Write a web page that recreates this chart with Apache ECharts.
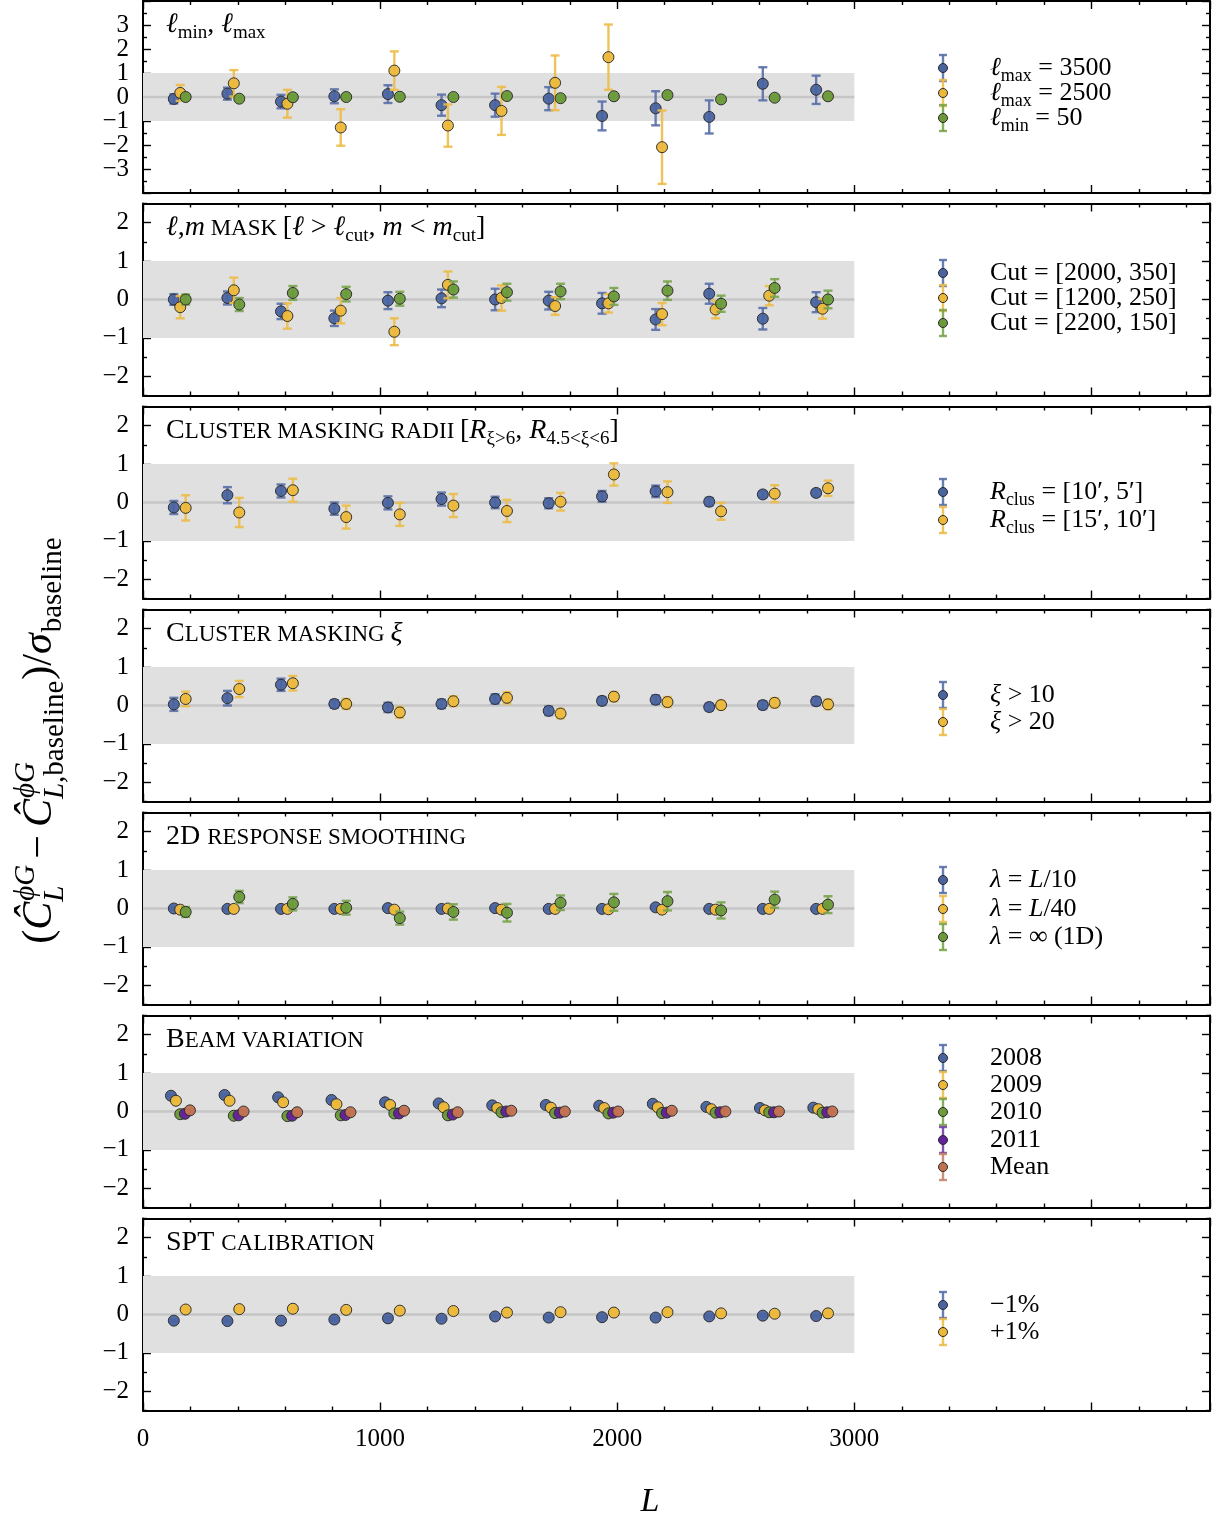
<!DOCTYPE html>
<html><head><meta charset="utf-8">
<script src="https://cdn.jsdelivr.net/npm/echarts@6/dist/echarts.min.js"></script>
<style>html,body{margin:0;padding:0;background:#fff}#c{width:1221px;height:1521px}</style>
</head><body><div id="c"></div>
<script>
const SERIF = "'Liberation Serif','DejaVu Serif',serif";

// ---------- DATA ----------
const binCenters = [160, 386, 612, 837, 1063, 1289, 1515, 1741, 1966, 2192, 2418, 2644, 2869];
const xTickLabels = [0, 1000, 2000, 3000];
const bandL = [0, 3000];
const bandY = [-1, 1];

// Panel 1: lmin, lmax
const p1Title = '{ti|ℓ}{ts|min}{tn|, }{ti|ℓ}{ts|max}';
const p1Labels = ['{i|ℓ}{s|max}{n| = 3500}', '{i|ℓ}{s|max}{n| = 2500}', '{i|ℓ}{s|min}{n| = 50}'];
const p1Lmax3500 = [-0.08, 0.14, -0.19, 0.03, 0.12, -0.34, -0.34, -0.07, -0.79, -0.47, -0.83, 0.55, 0.30];
const p1Lmax3500Err = [0.19, 0.25, 0.28, 0.29, 0.37, 0.44, 0.48, 0.48, 0.60, 0.71, 0.69, 0.69, 0.59];
const p1Lmax2500 = [0.17, 0.57, -0.28, -1.27, 1.10, -1.19, -0.58, 0.59, 1.66, -2.09];
const p1Lmax2500Err = [0.33, 0.55, 0.58, 0.76, 0.80, 0.88, 1.00, 1.14, 1.36, 1.53];
const p1Lmin50 = [0.00, -0.07, -0.01, 0.00, 0.01, 0.00, 0.04, -0.05, 0.03, 0.08, -0.10, -0.03, 0.03];
const p1Lmin50Err = [0.08, 0.08, 0.08, 0.08, 0.08, 0.08, 0.08, 0.08, 0.08, 0.08, 0.08, 0.08, 0.08];

// Panel 2: l,m mask
const p2Title = '{ti|ℓ}{tn|,}{ti|m}{tc| MASK }{tn|[}{ti|ℓ}{tn| > }{ti|ℓ}{ts|cut}{tn|, }{ti|m}{tn| < }{ti|m}{ts|cut}{tn|]}';
const p2Labels = ['{n|Cut = [2000, 350]}', '{n|Cut = [1200, 250]}', '{n|Cut = [2200, 150]}'];
const p2Cut2000 = [0.00, 0.04, -0.31, -0.49, -0.03, 0.03, 0.00, -0.03, -0.10, -0.52, 0.15, -0.50, -0.07];
const p2Cut2000Err = [0.14, 0.17, 0.20, 0.20, 0.22, 0.23, 0.28, 0.23, 0.27, 0.27, 0.26, 0.28, 0.26];
const p2Cut1200 = [-0.20, 0.24, -0.43, -0.29, -0.84, 0.38, 0.04, -0.17, -0.10, -0.38, -0.26, 0.10, -0.24];
const p2Cut1200Err = [0.29, 0.33, 0.33, 0.33, 0.35, 0.35, 0.33, 0.23, 0.24, 0.29, 0.23, 0.25, 0.26];
const p2Cut2200 = [0.00, -0.13, 0.17, 0.14, 0.02, 0.26, 0.19, 0.21, 0.08, 0.23, -0.11, 0.30, 0.00];
const p2Cut2200Err = [0.13, 0.17, 0.18, 0.19, 0.18, 0.21, 0.22, 0.20, 0.22, 0.24, 0.21, 0.23, 0.23];

// Panel 3: cluster masking radii
const p3Title = '{tn|C}{tc|LUSTER MASKING RADII }{tn|[}{ti|R}{ts|ξ>6}{tn|, }{ti|R}{ts|4.5<ξ<6}{tn|]}';
const p3Labels = ['{i|R}{s|clus}{n| = [10′, 5′]}', '{i|R}{s|clus}{n| = [15′, 10′]}'];
const p3R10 = [-0.13, 0.19, 0.30, -0.16, -0.01, 0.09, 0.00, -0.02, 0.16, 0.29, 0.02, 0.21, 0.25];
const p3R10Err = [0.17, 0.21, 0.17, 0.16, 0.17, 0.17, 0.15, 0.13, 0.14, 0.15, 0.10, 0.08, 0.08];
const p3R15 = [-0.14, -0.26, 0.32, -0.38, -0.31, -0.08, -0.22, 0.02, 0.73, 0.27, -0.23, 0.23, 0.37];
const p3R15Err = [0.33, 0.38, 0.30, 0.30, 0.30, 0.30, 0.29, 0.23, 0.29, 0.28, 0.22, 0.22, 0.20];

// Panel 4: cluster masking xi
const p4Title = '{tn|C}{tc|LUSTER MASKING }{ti|ξ}';
const p4Labels = ['{i|ξ}{n| > 10}', '{i|ξ}{n| > 20}'];
const p4Xi10 = [0.03, 0.19, 0.54, 0.04, -0.05, 0.04, 0.17, -0.14, 0.12, 0.15, -0.04, 0.01, 0.11];
const p4Xi10Err = [0.17, 0.19, 0.16, 0.10, 0.12, 0.11, 0.12, 0.11, 0.10, 0.11, 0.09, 0.10, 0.10];
const p4Xi20 = [0.17, 0.43, 0.58, 0.04, -0.18, 0.11, 0.20, -0.21, 0.23, 0.09, 0.01, 0.07, 0.03];
const p4Xi20Err = [0.19, 0.21, 0.19, 0.13, 0.14, 0.13, 0.15, 0.12, 0.12, 0.13, 0.11, 0.12, 0.13];

// Panel 5: 2D response smoothing
const p5Title = '{tn|2D }{tc|RESPONSE SMOOTHING}';
const p5Labels = ['{i|λ}{n| = }{i|L}{n|/10}', '{i|λ}{n| = }{i|L}{n|/40}', '{i|λ}{n| = ∞ (1D)}'];
const p5L10 = [0.00, -0.01, -0.01, -0.01, 0.01, -0.01, 0.01, -0.01, -0.01, 0.03, -0.01, -0.01, -0.01];
const p5L10Err = [0.03, 0.03, 0.03, 0.03, 0.03, 0.03, 0.03, 0.03, 0.03, 0.03, 0.03, 0.03, 0.03];
const p5L40 = [-0.03, -0.01, -0.01, -0.01, -0.03, 0.00, -0.03, -0.01, -0.02, -0.03, -0.03, -0.01, -0.01];
const p5L40Err = [0.05, 0.05, 0.05, 0.05, 0.05, 0.05, 0.05, 0.05, 0.05, 0.05, 0.05, 0.05, 0.05];
const p5Inf = [-0.09, 0.30, 0.12, 0.02, -0.25, -0.09, -0.11, 0.15, 0.16, 0.19, -0.05, 0.23, 0.10];
const p5InfErr = [0.13, 0.16, 0.17, 0.18, 0.17, 0.20, 0.23, 0.19, 0.22, 0.24, 0.21, 0.21, 0.22];

// Panel 6: beam variation
const p6Title = '{tn|B}{tc|EAM VARIATION}';
const p6Labels = ['{n|2008}', '{n|2009}', '{n|2010}', '{n|2011}', '{n|Mean}'];
const p6Y2008 = [0.41, 0.43, 0.37, 0.30, 0.24, 0.21, 0.16, 0.17, 0.15, 0.20, 0.12, 0.09, 0.10];
const p6Y2009 = [0.28, 0.28, 0.24, 0.19, 0.17, 0.11, 0.09, 0.10, 0.09, 0.11, 0.06, 0.03, 0.06];
const p6Y2010 = [-0.07, -0.11, -0.12, -0.10, -0.05, -0.10, -0.02, -0.04, -0.05, -0.04, -0.03, -0.02, -0.03];
const p6Y2011 = [-0.06, -0.10, -0.11, -0.09, -0.05, -0.08, 0.00, -0.03, -0.03, -0.03, -0.02, -0.02, -0.02];
const p6Mean = [0.03, 0.00, -0.02, -0.02, 0.02, -0.02, 0.02, 0.00, 0.00, 0.02, 0.00, 0.00, 0.00];
const p6Err = [0.03, 0.03, 0.03, 0.03, 0.03, 0.03, 0.03, 0.03, 0.03, 0.03, 0.03, 0.03, 0.03];

// Panel 7: SPT calibration
const p7Title = '{tn|SPT }{tc|CALIBRATION}';
const p7Labels = ['{n|−1%}', '{n|+1%}'];
const p7Minus1 = [-0.16, -0.17, -0.16, -0.13, -0.10, -0.11, -0.05, -0.08, -0.07, -0.08, -0.05, -0.03, -0.04];
const p7Plus1 = [0.13, 0.14, 0.15, 0.12, 0.10, 0.09, 0.05, 0.06, 0.05, 0.06, 0.03, 0.02, 0.03];
const p7Err = [0.03, 0.03, 0.03, 0.03, 0.03, 0.03, 0.03, 0.03, 0.03, 0.03, 0.03, 0.03, 0.03];

// ---------- STYLE ----------
const COL = {
  blue:   {fill: '#4a64a0', bar: '#5a70a8'},
  yellow: {fill: '#ecb83a', bar: '#ecbc4a'},
  green:  {fill: '#6c9a3a', bar: '#7aa44c'},
  purple: {fill: '#64229a', bar: '#7440a4'},
  brown:  {fill: '#c27150', bar: '#c4846a'}
};
const off3 = [-30, -3, 20], off2 = [-30, 20], off5 = [-42, -21, -3, 17, 38];
const panelTops = [1, 203.5, 406.5, 609.5, 812.5, 1015.5, 1218.5];
const panelH = 192;
// labelsA go on the major-tick axis, labelsB on the minor-tick axis (split so that dense labels are never thinned)
const wideY = {min: -2.5, max: 2.5, major: [-2, -1, 0, 1, 2], minor: [-2.5, -1.5, -0.5, 0.5, 1.5, 2.5],
  labelsA: [-2, -1, 0, 1, 2], labelsB: []};
const tallY = {min: -4, max: 4, major: [-4, -3, -2, -1, 0, 1, 2, 3, 4], minor: [-3.5, -2.5, -1.5, -0.5, 0.5, 1.5, 2.5, 3.5],
  labelsA: [-3, -1, 1, 3], labelsB: [-2, 0, 2]};

const panels = [
  {title: p1Title, y: tallY, labels: p1Labels, rows: [68, 93, 118],
   series: [[p1Lmax3500, p1Lmax3500Err, 'blue'], [p1Lmax2500, p1Lmax2500Err, 'yellow'], [p1Lmin50, p1Lmin50Err, 'green']], off: off3},
  {title: p2Title, y: wideY, labels: p2Labels, rows: [273, 298, 323],
   series: [[p2Cut2000, p2Cut2000Err, 'blue'], [p2Cut1200, p2Cut1200Err, 'yellow'], [p2Cut2200, p2Cut2200Err, 'green']], off: off3},
  {title: p3Title, y: wideY, labels: p3Labels, rows: [492, 520],
   series: [[p3R10, p3R10Err, 'blue'], [p3R15, p3R15Err, 'yellow']], off: off2},
  {title: p4Title, y: wideY, labels: p4Labels, rows: [695, 722],
   series: [[p4Xi10, p4Xi10Err, 'blue'], [p4Xi20, p4Xi20Err, 'yellow']], off: off2},
  {title: p5Title, y: wideY, labels: p5Labels, rows: [880, 909, 937],
   series: [[p5L10, p5L10Err, 'blue'], [p5L40, p5L40Err, 'yellow'], [p5Inf, p5InfErr, 'green']], off: off3},
  {title: p6Title, y: wideY, labels: p6Labels, rows: [1058, 1085, 1112, 1140, 1167],
   series: [[p6Y2008, p6Err, 'blue'], [p6Y2009, p6Err, 'yellow'], [p6Y2010, p6Err, 'green'], [p6Y2011, p6Err, 'purple'], [p6Mean, p6Err, 'brown']], off: off5},
  {title: p7Title, y: wideY, labels: p7Labels, rows: [1305, 1332],
   series: [[p7Minus1, p7Err, 'blue'], [p7Plus1, p7Err, 'yellow']], off: off2}
];

const minusFmt = v => (v < 0 ? '\u2212' + Math.abs(v) : String(v));

const legendRich = {
  n: {fontFamily: SERIF, fontSize: 26, lineHeight: 34, verticalAlign: 'middle', color: '#000'},
  i: {fontFamily: SERIF, fontSize: 26, lineHeight: 34, verticalAlign: 'middle', fontStyle: 'italic', color: '#000'},
  s: {fontFamily: SERIF, fontSize: 18, lineHeight: 18, height: 18, verticalAlign: 'bottom', color: '#000'}
};
const titleRich = {
  tn: {fontFamily: SERIF, fontSize: 28, lineHeight: 36, verticalAlign: 'middle', color: '#000'},
  ti: {fontFamily: SERIF, fontSize: 28, lineHeight: 36, verticalAlign: 'middle', fontStyle: 'italic', color: '#000'},
  tc: {fontFamily: SERIF, fontSize: 23, lineHeight: 33, height: 33, verticalAlign: 'bottom', color: '#000'},
  ts: {fontFamily: SERIF, fontSize: 19, lineHeight: 19, height: 19, verticalAlign: 'bottom', color: '#000'}
};

function renderBand(params, api) {
  const a = api.coord([api.value(0), api.value(3)]);
  const b = api.coord([api.value(2), api.value(1)]);
  const z0 = api.coord([api.value(0), 0]);
  const z1 = api.coord([api.value(2), 0]);
  return {type: 'group', children: [
    {type: 'rect', shape: {x: a[0], y: a[1], width: b[0] - a[0], height: b[1] - a[1]}, style: {fill: '#e0e0e0'}},
    {type: 'line', shape: {x1: z0[0], y1: z0[1], x2: z1[0], y2: z1[1]}, style: {stroke: '#c6c6c6', lineWidth: 2.5}}
  ]};
}

function makeErrRender(col) {
  return function (params, api) {
    const x = api.value(0), y = api.value(1), e = api.value(2);
    const c = api.coord([x, y]);
    const t = api.coord([x, y + e]);
    const b = api.coord([x, y - e]);
    const cw = 4.5;
    const ls = {stroke: col.bar, lineWidth: 2.4, opacity: 0.9};
    return {type: 'group', children: [
      {type: 'line', shape: {x1: c[0], y1: t[1], x2: c[0], y2: b[1]}, style: ls},
      {type: 'line', shape: {x1: c[0] - cw, y1: t[1], x2: c[0] + cw, y2: t[1]}, style: ls},
      {type: 'line', shape: {x1: c[0] - cw, y1: b[1], x2: c[0] + cw, y2: b[1]}, style: ls},
      {type: 'circle', shape: {cx: c[0], cy: c[1], r: 5.5}, style: {fill: col.fill, stroke: '#2a2a2a', lineWidth: 1, opacity: 0.95}}
    ]};
  };
}

const grids = [], xAxes = [], yAxes = [], series = [], graphics = [];
const axisLine = {show: true, onZero: false, lineStyle: {color: '#000', width: 2}};
const tickStyle = {color: '#000', width: 1.4};
function yLabel(values) {
  return {show: values.length > 0, customValues: values.length ? values : [0], formatter: minusFmt, fontFamily: SERIF, fontSize: 25,
    color: '#000', margin: 14, showMinLabel: true, showMaxLabel: true, hideOverlap: false};
}

panels.forEach((p, i) => {
  const top = panelTops[i];
  grids.push({left: 143, right: 11, top: top, height: panelH, outerBoundsMode: 'none', containLabel: false});
  const isLast = i === panels.length - 1;
  const xb = {type: 'value', gridIndex: i, min: 0, max: 4500, interval: 1000, splitLine: {show: false},
    axisLine: axisLine,
    axisTick: {show: true, inside: true, length: 8, lineStyle: tickStyle},
    minorTick: {show: true, splitNumber: 5, length: 4, lineStyle: tickStyle},
    minorSplitLine: {show: false}};
  xAxes.push(Object.assign({}, xb, {position: 'bottom', axisLabel: {show: isLast, margin: 16, fontFamily: SERIF, fontSize: 25, color: '#000',
    formatter: v => (xTickLabels.indexOf(v) >= 0 ? String(v) : '')}}));
  xAxes.push(Object.assign({}, xb, {position: 'top', axisLabel: {show: false}}));
  const yb = {type: 'value', gridIndex: i, min: p.y.min, max: p.y.max, splitLine: {show: false}};
  yAxes.push(Object.assign({}, yb, {position: 'left', axisLine: axisLine,
    axisTick: {show: true, inside: true, length: 8, customValues: p.y.major, lineStyle: tickStyle},
    axisLabel: yLabel(p.y.labelsA)}));
  yAxes.push(Object.assign({}, yb, {position: 'right', axisLine: axisLine,
    axisTick: {show: true, inside: true, length: 8, customValues: p.y.major, lineStyle: tickStyle},
    axisLabel: {show: false}}));
  yAxes.push(Object.assign({}, yb, {position: 'left', axisLine: {show: false, onZero: false},
    axisTick: {show: true, inside: true, length: 4, customValues: p.y.minor, lineStyle: tickStyle},
    axisLabel: yLabel(p.y.labelsB)}));
  yAxes.push(Object.assign({}, yb, {position: 'right', axisLine: {show: false, onZero: false},
    axisTick: {show: true, inside: true, length: 4, customValues: p.y.minor, lineStyle: tickStyle},
    axisLabel: {show: false}}));

  series.push({type: 'custom', name: 'band' + i, xAxisIndex: 2 * i, yAxisIndex: 4 * i, silent: true, z: 1, clip: false,
    data: [[bandL[0], bandY[0], bandL[1], bandY[1]]], encode: {x: [0, 2], y: [1, 3]}, renderItem: renderBand});

  p.series.forEach((s, j) => {
    const vals = s[0], errs = s[1], col = COL[s[2]];
    const data = vals.map((v, k) => [binCenters[k] + p.off[j], v, errs[k]]);
    series.push({type: 'custom', name: 'p' + i + 's' + j, xAxisIndex: 2 * i, yAxisIndex: 4 * i, z: 2 + j, clip: false,
      data: data, encode: {x: 0, y: 1}, renderItem: makeErrRender(col)});
    const ry = p.rows[j];
    const lls = {stroke: col.bar, lineWidth: 2.4, opacity: 0.9};
    graphics.push({type: 'group', x: 943, y: ry, silent: true, children: [
      {type: 'line', shape: {x1: 0, y1: -13, x2: 0, y2: 13}, style: lls},
      {type: 'line', shape: {x1: -4, y1: -13, x2: 4, y2: -13}, style: lls},
      {type: 'line', shape: {x1: -4, y1: 13, x2: 4, y2: 13}, style: lls},
      {type: 'circle', shape: {cx: 0, cy: 0, r: 4.5}, style: {fill: col.fill, stroke: '#2a2a2a', lineWidth: 1}}
    ]});
    graphics.push({type: 'text', x: 990, y: ry, silent: true,
      style: {text: p.labels[j], rich: legendRich, align: 'left', verticalAlign: 'middle', textAlign: 'left', textVerticalAlign: 'middle'}});
  });
  graphics.push({type: 'text', x: 166, y: top + 24, silent: true,
    style: {text: p.title, rich: titleRich, align: 'left', verticalAlign: 'middle', textAlign: 'left', textVerticalAlign: 'middle'}});
});

// ---------- Y-axis title (rotated group) ----------
function buildYTitle() {
  const ctx = document.createElement('canvas').getContext('2d');
  const M = 42, S = 29;
  const SUP = -18, SUB = 11;
  const parts = [];
  let x = 0;
  function w(text, size, italic) { ctx.font = (italic ? 'italic ' : '') + size + "px 'Liberation Serif'"; return ctx.measureText(text).width; }
  function put(text, size, italic, dy, at) {
    parts.push({text, size, italic, x: at, dy});
    return w(text, size, italic);
  }
  x += put('(', M, false, 0, x);
  x += put('\u0108', M, true, 0, x);
  let a = put('\u03d5G', S, true, SUP, x + 1);
  let b = put('L', S, true, SUB, x);
  x += Math.max(a + 1, b) + 4;
  x += put('\u2212', M, false, 0, x + 2) + 10;
  x += put('\u0108', M, true, 0, x);
  a = put('\u03d5G', S, true, SUP, x + 1);
  let b1 = put('L', S, true, SUB, x);
  let b2 = put(',baseline', S, false, SUB, x + b1);
  x += Math.max(a + 1, b1 + b2) + 1;
  x += put(')', M, false, 0, x);
  x += put('/', M, false, 0, x);
  x += put('\u03c3', M, true, 0, x);
  x += put('baseline', S, false, 9, x + 1);
  const W = x;
  return {type: 'group', x: 53, y: 741, rotation: Math.PI / 2, silent: true,
    children: parts.map(pt => ({type: 'text', x: pt.x - W / 2, y: pt.dy - 0.305 * pt.size,
      style: {text: pt.text, font: (pt.italic ? 'italic ' : '') + pt.size + 'px ' + SERIF, fill: '#000',
        align: 'left', verticalAlign: 'middle', textAlign: 'left', textVerticalAlign: 'middle'}}))};
}
graphics.push(buildYTitle());
graphics.push({type: 'text', x: 650, y: 1502, silent: true,
  style: {text: 'L', font: 'italic 34px ' + SERIF, fill: '#000', align: 'center', verticalAlign: 'middle', textAlign: 'center', textVerticalAlign: 'middle'}});

const chart = echarts.init(document.getElementById('c'), null, {renderer: 'canvas'});
chart.setOption({
  animation: false,
  backgroundColor: '#fff',
  grid: grids,
  xAxis: xAxes,
  yAxis: yAxes,
  series: series,
  graphic: {elements: graphics}
});
</script>
</body></html>
